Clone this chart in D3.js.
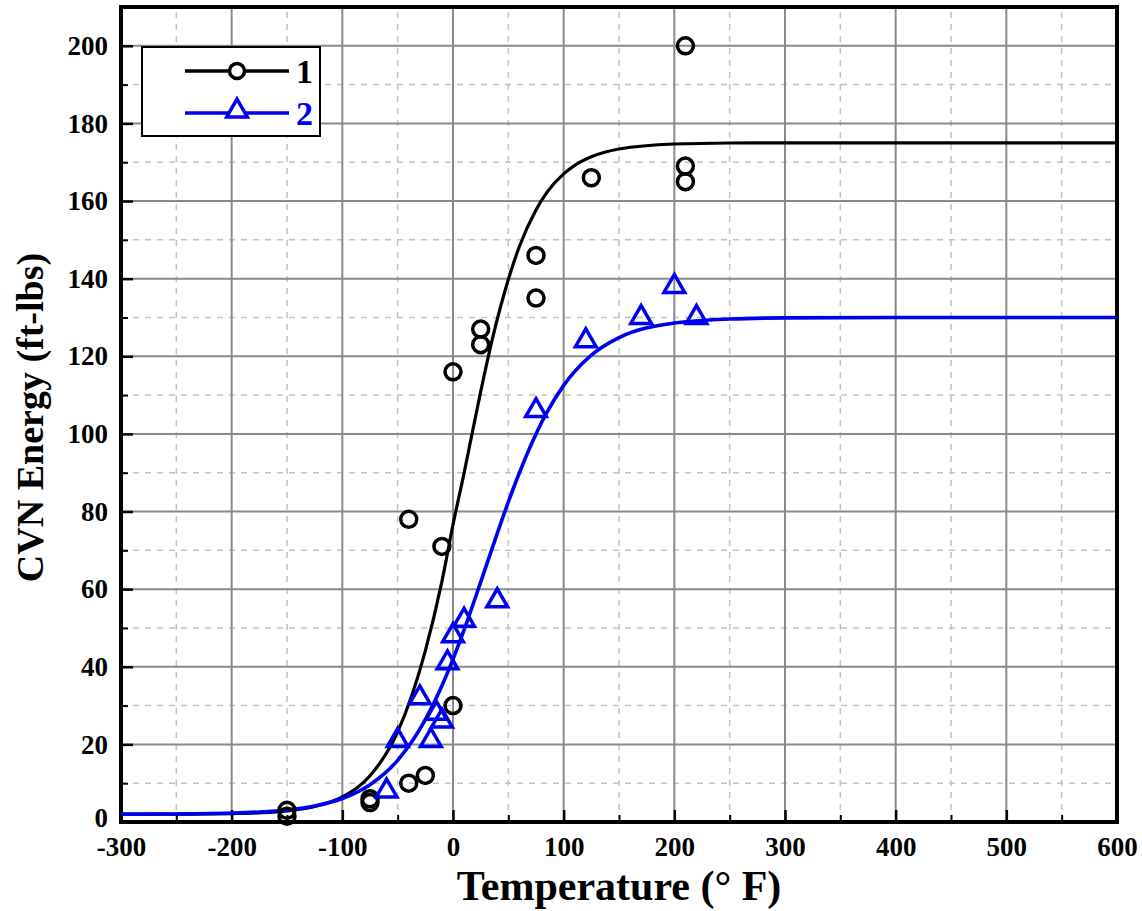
<!DOCTYPE html>
<html><head><meta charset="utf-8">
<script src="https://cdn.jsdelivr.net/npm/d3@7"></script>
<style>body{margin:0;background:#fff}svg{display:block}</style>
</head><body>
<svg id="chart" width="1142" height="911"></svg>
<script>
// Measured data (series 1: circles, series 2: triangles)
const s1Temp = [-150,-150,-75,-75,-40,-25,0,-40,-10,0,25,25,75,75,125,210,210,210];
const s1Energy = [3,1.5,5,6,10,12,30,78,71,116,127,123,146,135,166,200,169,165];
const s2Temp = [-60,-50,-30,-20,-15,-10,-5,0,10,40,75,120,170,200,220];
const s2Energy = [8,21,32,21,28,26,41,48,52,57,106,124,130,138,130];
// Fitted curves
const fitTemp = [-300,-250,-200,-175,-150,-125,-100,-75,-50,-25,-10,0,10,25,35,50,60,75,85,100,110,125,150,200,250,300,400,600];
const fit1Energy = [2.0,2.03,2.16,2.37,2.86,3.99,6.45,11.9,23.2,44.1,62.0,76.6,89.9,110.9,123.8,139.8,148.3,157.7,162.3,167.0,169.2,171.4,173.4,174.7,174.96,175,175,175];
const fit2Energy = [2.02,2.08,2.3,2.58,3.11,4.13,6.05,9.6,15.9,26.37,35.1,41.97,49.5,61.8,70.2,82.47,90.0,100.0,105.6,112.5,116.1,120.3,124.8,128.56,129.6,129.9,130,130];
const xTicks = [-300,-200,-100,0,100,200,300,400,500,600];
const yTicks = [0,20,40,60,80,100,120,140,160,180,200];
const seriesNames = ["1","2"];

const W = 1142, H = 911;
const m = {left:121, right:25, top:7, bottom:89};
const svg = d3.select("#chart");
const x = d3.scaleLinear().domain([-300,600]).range([m.left, W-m.right]);
const y = d3.scaleLinear().domain([0,210]).range([H-m.bottom, m.top]);
const black = "#000", blue = "#0000f0";
const font = "'Liberation Serif','Times New Roman',serif";
const fmt = d => String(d);

// minor grid (dashed)
const xMinor = d3.range(-250,600,100);
const yMinor = d3.range(10,210,20);
svg.append("g").selectAll("line").data(xMinor).join("line")
  .attr("x1",d=>x(d)).attr("x2",d=>x(d)).attr("y1",y(0)).attr("y2",y(210))
  .attr("stroke","#c2c2c2").attr("stroke-width",1.5).attr("stroke-dasharray","6,6");
svg.append("g").selectAll("line").data(yMinor).join("line")
  .attr("y1",d=>y(d)).attr("y2",d=>y(d)).attr("x1",x(-300)).attr("x2",x(600))
  .attr("stroke","#c2c2c2").attr("stroke-width",1.5).attr("stroke-dasharray","6,6");
// major grid
svg.append("g").selectAll("line").data(xTicks.slice(1,-1)).join("line")
  .attr("x1",d=>x(d)).attr("x2",d=>x(d)).attr("y1",y(0)).attr("y2",y(210))
  .attr("stroke","#8a8a8a").attr("stroke-width",2);
svg.append("g").selectAll("line").data(yTicks.slice(1)).join("line")
  .attr("y1",d=>y(d)).attr("y2",d=>y(d)).attr("x1",x(-300)).attr("x2",x(600))
  .attr("stroke","#8a8a8a").attr("stroke-width",2);

// axes with inward ticks
const xAxis = d3.axisBottom(x).tickValues(xTicks).tickSize(-12).tickPadding(15).tickFormat(fmt);
const gx = svg.append("g").attr("transform",`translate(0,${y(0)})`).call(xAxis);
gx.select(".domain").remove();
gx.selectAll(".tick line").attr("stroke","#000").attr("stroke-width",2.5);
gx.selectAll("text").attr("font-family",font).attr("font-weight","bold").attr("font-size",27).attr("fill","#000");
const gxm = svg.append("g").attr("transform",`translate(0,${y(0)})`)
  .call(d3.axisBottom(x).tickValues(xMinor).tickSize(-7).tickFormat(""));
gxm.select(".domain").remove();
gxm.selectAll(".tick line").attr("stroke","#000").attr("stroke-width",2);

const yAxis = d3.axisLeft(y).tickValues(yTicks).tickSize(-12).tickPadding(13).tickFormat(fmt);
const gy = svg.append("g").attr("transform",`translate(${x(-300)},0)`).call(yAxis);
gy.select(".domain").remove();
gy.selectAll(".tick line").attr("stroke","#000").attr("stroke-width",2.5);
gy.selectAll("text").attr("font-family",font).attr("font-weight","bold").attr("font-size",27).attr("fill","#000");
gy.selectAll(".tick").filter(d=>d===0).select("text").attr("dy","0.15em");
const gym = svg.append("g").attr("transform",`translate(${x(-300)},0)`)
  .call(d3.axisLeft(y).tickValues(yMinor).tickSize(-7).tickFormat(""));
gym.select(".domain").remove();
gym.selectAll(".tick line").attr("stroke","#000").attr("stroke-width",2);

// frame
svg.append("rect").attr("x",x(-300)).attr("y",y(210)).attr("width",x(600)-x(-300)).attr("height",y(0)-y(210))
  .attr("fill","none").attr("stroke","#000").attr("stroke-width",4);

// curves
const line = d3.line().x(d=>x(d[0])).y(d=>y(d[1])).curve(d3.curveMonotoneX);
svg.append("path").datum(fitTemp.map((t,i)=>[t,fit1Energy[i]]))
  .attr("d",line).attr("fill","none").attr("stroke",black).attr("stroke-width",3.2);
svg.append("path").datum(fitTemp.map((t,i)=>[t,fit2Energy[i]]))
  .attr("d",line).attr("fill","none").attr("stroke",blue).attr("stroke-width",3.6);

// markers
const tri = d3.symbol().type(d3.symbolTriangle).size(185);
svg.append("g").selectAll("circle").data(s1Temp.map((t,i)=>[t,s1Energy[i]])).join("circle")
  .attr("cx",d=>x(d[0])).attr("cy",d=>y(d[1])).attr("r",8)
  .attr("fill","none").attr("stroke",black).attr("stroke-width",3.5);
svg.append("g").selectAll("path").data(s2Temp.map((t,i)=>[t,s2Energy[i]])).join("path")
  .attr("d",tri).attr("transform",d=>`translate(${x(d[0])},${y(d[1])})`)
  .attr("fill","none").attr("stroke",blue).attr("stroke-width",3.5);

// axis titles
svg.append("text").attr("x",619).attr("y",900).attr("text-anchor","middle")
  .attr("font-family",font).attr("font-weight","bold").attr("font-size",42).text("Temperature (° F)");
svg.append("text").attr("transform",`translate(43,${(y(0)+y(210))/2 + 3}) rotate(-90)`).attr("text-anchor","middle")
  .attr("font-family",font).attr("font-weight","bold").attr("font-size",38).text("CVN Energy (ft-lbs)");

// legend
const lg = svg.append("g");
lg.append("rect").attr("x",142).attr("y",47).attr("width",178).attr("height",89)
  .attr("fill","#fff").attr("stroke","#000").attr("stroke-width",2);
const legendRows = [{name:seriesNames[0],color:black,shape:"circle",yy:71},{name:seriesNames[1],color:blue,shape:"tri",yy:113}];
legendRows.forEach(r=>{
  lg.append("line").attr("x1",185).attr("x2",289).attr("y1",r.yy).attr("y2",r.yy).attr("stroke",r.color).attr("stroke-width",3.5);
  if(r.shape==="circle"){
    lg.append("circle").attr("cx",237).attr("cy",r.yy).attr("r",7.5).attr("fill","#fff").attr("stroke",r.color).attr("stroke-width",3.5);
  } else {
    lg.append("path").attr("d",tri).attr("transform",`translate(237,${r.yy-2})`).attr("fill","#fff").attr("stroke",r.color).attr("stroke-width",3.5);
  }
  lg.append("text").attr("x",296).attr("y",r.yy+12).attr("font-family",font).attr("font-weight","bold")
    .attr("font-size",34).attr("fill",r.color).text(r.name);
});
</script>
</body></html>
